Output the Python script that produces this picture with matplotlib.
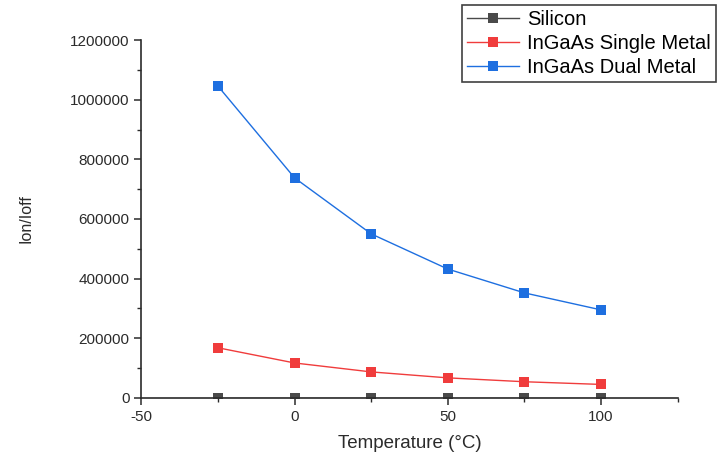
import matplotlib

matplotlib.use("Agg")
import matplotlib.pyplot as plt
from matplotlib.ticker import MultipleLocator, FuncFormatter

plt.rcParams["font.family"] = ["Liberation Sans", "DejaVu Sans"]

# Ion/Ioff ratio versus temperature for the three device variants
temperature = [-25, 0, 25, 50, 75, 100]
silicon = [0, 0, 0, 0, 0, 0]
ingaas_single = [168000, 117000, 87000, 67000, 54000, 45000]
ingaas_dual = [1046000, 738000, 550000, 432000, 352000, 295000]

SERIES = (
    ("Silicon", silicon, "#4a4a4a"),
    ("InGaAs Single Metal", ingaas_single, "#f03c3c"),
    ("InGaAs Dual Metal", ingaas_dual, "#1e6fe0"),
)

INK = "#2b2b2b"

fig = plt.figure(figsize=(7.28, 4.61), dpi=100)
ax = fig.add_axes([0.194, 0.137, 0.737, 0.776])

for label, values, color in SERIES:
    ax.plot(temperature, values, color=color, linewidth=1.0, marker="s",
            markersize=6.5, markeredgewidth=0, label=label)

ax.set_xlim(-50, 125)
ax.set_ylim(0, 1200000)
ax.xaxis.set_major_locator(MultipleLocator(50))
ax.xaxis.set_minor_locator(MultipleLocator(25))
ax.yaxis.set_major_locator(MultipleLocator(200000))
ax.yaxis.set_minor_locator(MultipleLocator(100000))
ax.yaxis.set_major_formatter(FuncFormatter(lambda v, _: f"{v:.0f}"))
ax.xaxis.set_major_formatter(FuncFormatter(lambda v, _: f"{v:.0f}"))

for side in ("top", "right"):
    ax.spines[side].set_visible(False)
for side in ("left", "bottom"):
    ax.spines[side].set_color(INK)
    ax.spines[side].set_linewidth(1.2)

ax.tick_params(which="major", direction="out", length=5, width=1.1,
               colors=INK, labelsize=11)
ax.tick_params(which="minor", direction="out", length=3, width=1.0, colors=INK)
ax.set_xticks([-50, 0, 50, 100])

ax.set_xlabel("Temperature (\u00b0C)", fontsize=13.5, color=INK, labelpad=8)
ax.set_ylabel("Ion/Ioff", fontsize=11.5, color=INK)
ax.yaxis.set_label_coords(-0.2, 0.5)

leg = fig.legend(loc="upper left", bbox_to_anchor=(0.634, 0.99),
                 fontsize=14.5, frameon=True, fancybox=False,
                 borderpad=0.25, labelspacing=0.25, handlelength=2.6,
                 handletextpad=0.4, borderaxespad=0)
leg.get_frame().set_edgecolor("#111111")
leg.get_frame().set_linewidth(1.2)

fig.savefig("out.png", dpi=100, facecolor="white")
plt.close(fig)
